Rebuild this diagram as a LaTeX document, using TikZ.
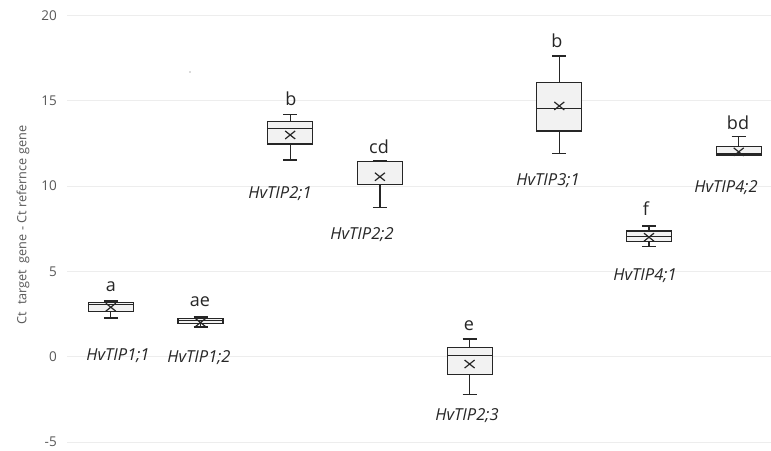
\documentclass[tikz,border=0pt]{standalone}
\usepackage{fontspec}
\setmainfont{Open Sans}
\definecolor{gridc}{HTML}{EDEDED}
\definecolor{txtc}{HTML}{595959}
\definecolor{boxfill}{HTML}{F2F2F2}
\definecolor{boxline}{HTML}{262626}
\tikzset{
  gridline/.style={gridc, line width=0.8pt},
  ticklab/.style={anchor=east, text=txtc, font=\fontsize{13.5}{15}\selectfont, inner sep=0pt},
  genelab/.style={text=black!85, font=\fontsize{16.5}{18}\itshape, inner sep=0pt},
  letlab/.style={text=black!85, font=\fontsize{18}{20}\selectfont, inner sep=0pt},
  whisk/.style={boxline, line width=1.2pt},
  boxst/.style={boxline, fill=boxfill, line width=1.2pt},
}
\newcommand\bxp[7]{%
  \draw[whisk] (#1,#2) -- (#1,#3) (#1,#5) -- (#1,#6);
  \draw[whisk] (#1-7,#2) -- (#1+7,#2) (#1-7,#6) -- (#1+7,#6);
  \draw[boxst] (#1-22.5,#3) rectangle (#1+22.5,#5);
  \draw[whisk] (#1-22.5,#4) -- (#1+22.5,#4);
  \draw[whisk] (#1,#7) ++(-5pt,-4pt) -- ++(10pt,8pt) ++(-10pt,0pt) -- ++(10pt,-8pt);
}
\begin{document}
\begin{tikzpicture}[x=1pt,y=17.07pt]
\begin{scope}[yshift=93.3pt]
\useasboundingbox (0,-5.466) rectangle (771,20.896);
\fill[white] (0,-5.466) rectangle (771,20.896);
% grid
\foreach \v in {-5,0,...,20} {
  \draw[gridline] (67,\v) -- (771,\v);
  \node[ticklab] (t\v) at (57,\v) {\v};
}
\node[rotate=90, text=txtc, font=\fontsize{12.7}{14}\selectfont, inner sep=0pt] (ylab) at (23,7.72) {Ct\ \ target\ \ gene - Ct refernce gene};
\fill[black!60] (190,16.68) circle (0.7pt);
% boxes
\bxp{110.8}{2.27}{2.64}{3.05}{3.19}{3.26}{2.9}
\bxp{200.5}{1.74}{1.93}{2.1}{2.22}{2.33}{2.0}
\bxp{290.2}{11.52}{12.46}{13.38}{13.80}{14.2}{12.99}
\bxp{379.9}{8.73}{10.10}{11.42}{11.42}{11.5}{10.54}
\bxp{469.6}{-2.2}{-1.03}{0.06}{0.55}{1.04}{-0.43}
\bxp{559.3}{11.92}{13.22}{14.55}{16.07}{17.62}{14.69}
\bxp{649.0}{6.44}{6.74}{7.03}{7.36}{7.66}{7.0}
\bxp{738.7}{11.82}{11.82}{11.9}{12.30}{12.89}{12.0}
% letters
\node[letlab] (l1) at (111,4.12) {a};
\node[letlab] (l2) at (200,3.2) {ae};
\node[letlab] (l3) at (291,15.1) {b};
\node[letlab] (l4) at (379,12.3) {cd};
\node[letlab] (l5) at (469,1.8) {e};
\node[letlab] (l6) at (557,18.5) {b};
\node[letlab] (l7) at (646,8.65) {f};
\node[letlab] (l8) at (738,13.7) {bd};
% gene labels
\node[genelab] (g1) at (118,0.04) {HvTIP1;1};
\node[genelab] (g2) at (199,-0.08) {HvTIP1;2};
\node[genelab] (g3) at (280,9.58) {HvTIP2;1};
\node[genelab] (g4) at (362,7.13) {HvTIP2;2};
\node[genelab] (g5) at (467,-3.47) {HvTIP2;3};
\node[genelab] (g6) at (548,10.29) {HvTIP3;1};
\node[genelab] (g7) at (645,4.73) {HvTIP4;1};
\node[genelab] (g8) at (726,9.9) {HvTIP4;2};
\end{scope}
\end{tikzpicture}
\end{document}
